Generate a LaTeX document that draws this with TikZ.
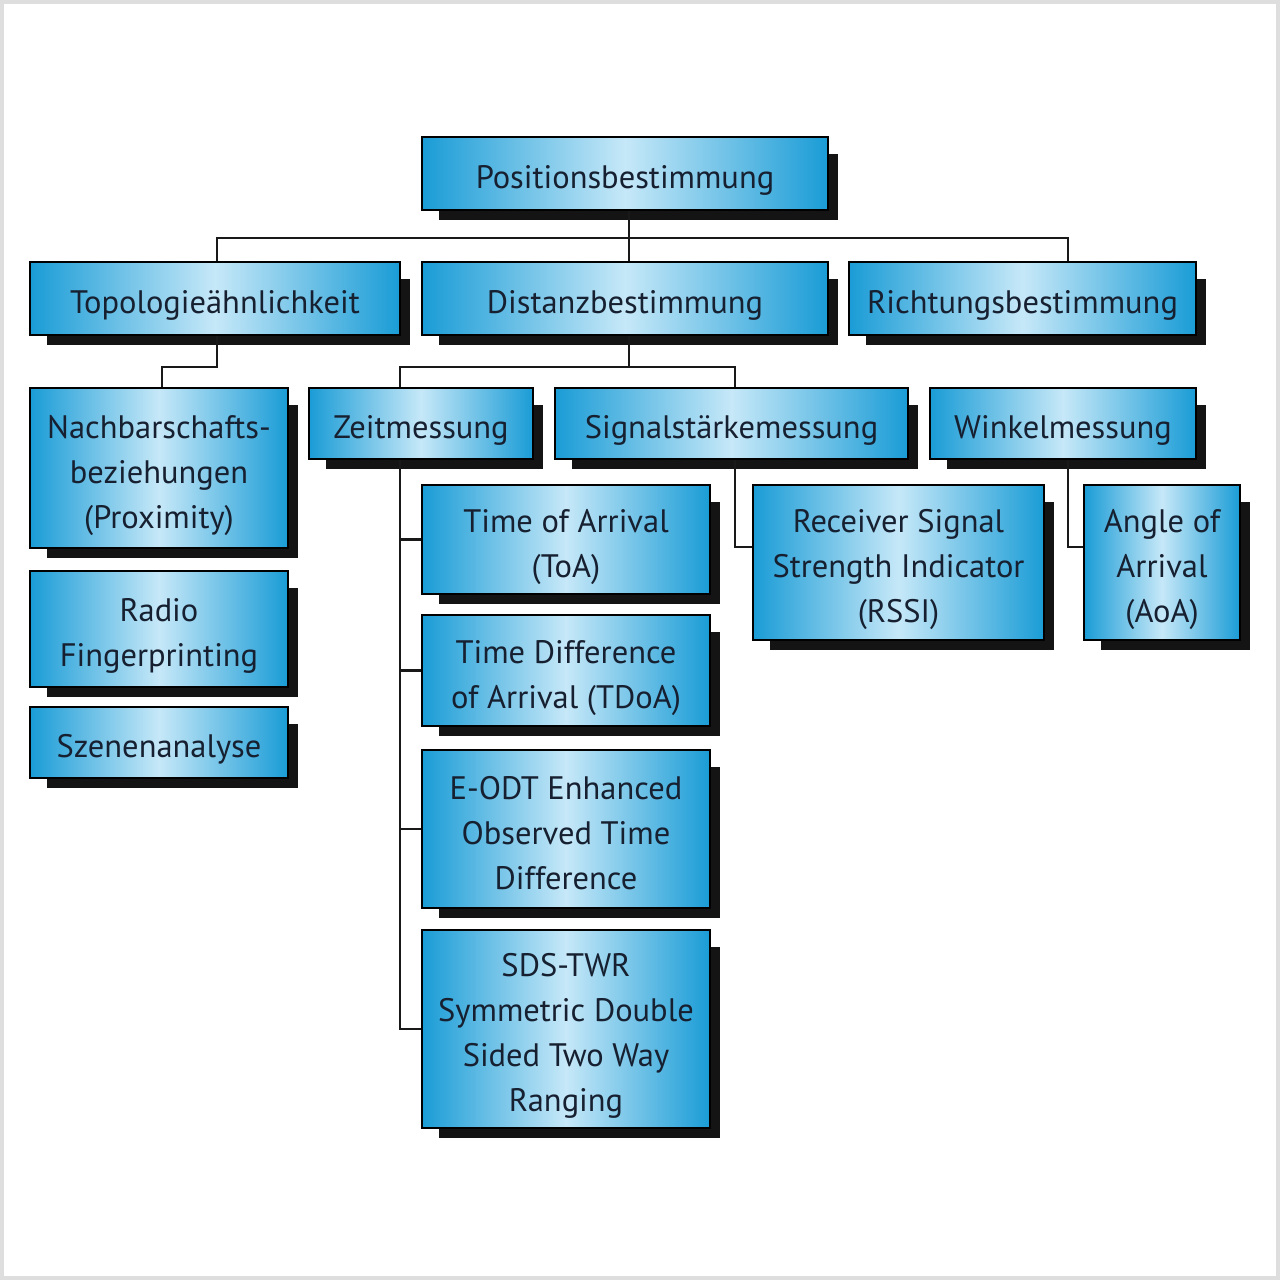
\documentclass[tikz,border=0pt]{standalone}
\usepackage{fontspec}
\setmainfont{PT Sans}
\usetikzlibrary{backgrounds}
\definecolor{edgec}{RGB}{26,156,214}
\definecolor{midc}{RGB}{198,232,248}
\definecolor{txtc}{RGB}{22,32,48}
\definecolor{framec}{RGB}{222,222,222}
\newcommand{\bt}[1]{\raisebox{-6pt}[\height][\depth]{\begin{tabular}{@{}c@{}}#1\end{tabular}}}
\tikzset{
  box/.style 2 args={draw=black, line width=1.6pt, left color=edgec, right color=edgec, middle color=midc,
    minimum width=#1, minimum height=#2, inner sep=0pt, text=txtc,
    font=\fontsize{32.5}{45}\selectfont},
  conn/.style={draw=black!90, line width=2.8pt},
  shad/.style={fill=black!92},
}
\begin{document}
\begin{tikzpicture}[x=1pt,y=-1pt]
\useasboundingbox (0,0) rectangle (1280,1280);

\node[box={406pt}{73pt}] (pos) at (625,173.5) {\bt{Positionsbestimmung}};
\node[box={370pt}{73pt}] (topo) at (215,298.5) {\bt{Topologieähnlichkeit}};
\node[box={406pt}{73pt}] (dist) at (625,298.5) {\bt{Distanzbestimmung}};
\node[box={347pt}{73pt}] (richt) at (1022.5,298.5) {\bt{Richtungsbestimmung}};
\node[box={258pt}{160pt}] (nach) at (159,468) {\bt{Nachbarschafts-\\beziehungen\\(Proximity)}};
\node[box={258pt}{116pt}] (radio) at (159,629) {\bt{Radio\\Fingerprinting}};
\node[box={258pt}{71pt}] (szene) at (159,742.5) {\bt{Szenenanalyse}};
\node[box={224pt}{71pt}] (zeit) at (421,423.5) {\bt{Zeitmessung}};
\node[box={353pt}{71pt}] (signal) at (731.5,423.5) {\bt{Signalstärkemessung}};
\node[box={266pt}{71pt}] (winkel) at (1063,423.5) {\bt{Winkelmessung}};
\node[box={288pt}{109pt}] (toa) at (566,539.5) {\bt{Time of Arrival\\(ToA)}};
\node[box={288pt}{111pt}] (tdoa) at (566,670.5) {\bt{Time Difference\\of Arrival (TDoA)}};
\node[box={288pt}{158pt}] (eodt) at (566,829) {\bt{E-ODT Enhanced\\Observed Time\\Difference}};
\node[box={288pt}{198pt}] (sds) at (566,1029) {\bt{SDS-TWR\\Symmetric Double\\Sided Two Way\\Ranging}};
\node[box={291pt}{155pt}] (rssi) at (898.5,562.5) {\bt{Receiver Signal\\Strength Indicator\\(RSSI)}};
\node[box={156pt}{155pt}] (aoa) at (1162,562.5) {\bt{Angle of\\Arrival\\(AoA)}};

\begin{scope}[on background layer]
\fill[white] (0,0) rectangle (1280,1280);
\draw[framec, line width=4pt] (2,2) rectangle (1278,1278);
\foreach \n in {pos,topo,dist,richt,nach,radio,szene,zeit,signal,winkel,toa,tdoa,eodt,sds,rssi,aoa}{
  \fill[shad] ([xshift=18pt,yshift=-18pt]\n.north west) rectangle ([xshift=9pt,yshift=-9pt]\n.south east);
}
\end{scope}

\coordinate (b1) at (629,238);
\coordinate (b1l) at (217,238);
\coordinate (b1r) at (1068,238);
\draw[conn] (pos.south -| b1) -- (b1);
\draw[conn] (topo.north -| b1l) -- (b1l) -- (b1r) -- (richt.north -| b1r);
\draw[conn] (b1) -- (dist.north -| b1);

\coordinate (t1) at (217,367);
\coordinate (t2) at (162,367);
\draw[conn] (topo.south -| t1) -- (t1) -- (t2) -- (nach.north -| t2);

\coordinate (d1) at (629,367);
\coordinate (d2) at (400,367);
\coordinate (d3) at (735,367);
\draw[conn] (dist.south -| d1) -- (d1);
\draw[conn] (zeit.north -| d2) -- (d2) -- (d3) -- (signal.north -| d3);

\coordinate (zx) at (400,0);
\draw[conn] (zeit.south -| zx) -- (sds.west -| zx) -- (sds.west);
\draw[conn] (toa.west -| zx) -- (toa.west);
\draw[conn] (tdoa.west -| zx) -- (tdoa.west);
\draw[conn] (eodt.west -| zx) -- (eodt.west);

\coordinate (s1) at (735,547);
\draw[conn] (signal.south -| s1) -- (s1) -- (rssi.west |- s1);
\coordinate (w1) at (1068,547);
\draw[conn] (winkel.south -| w1) -- (w1) -- (aoa.west |- w1);
\end{tikzpicture}
\end{document}
